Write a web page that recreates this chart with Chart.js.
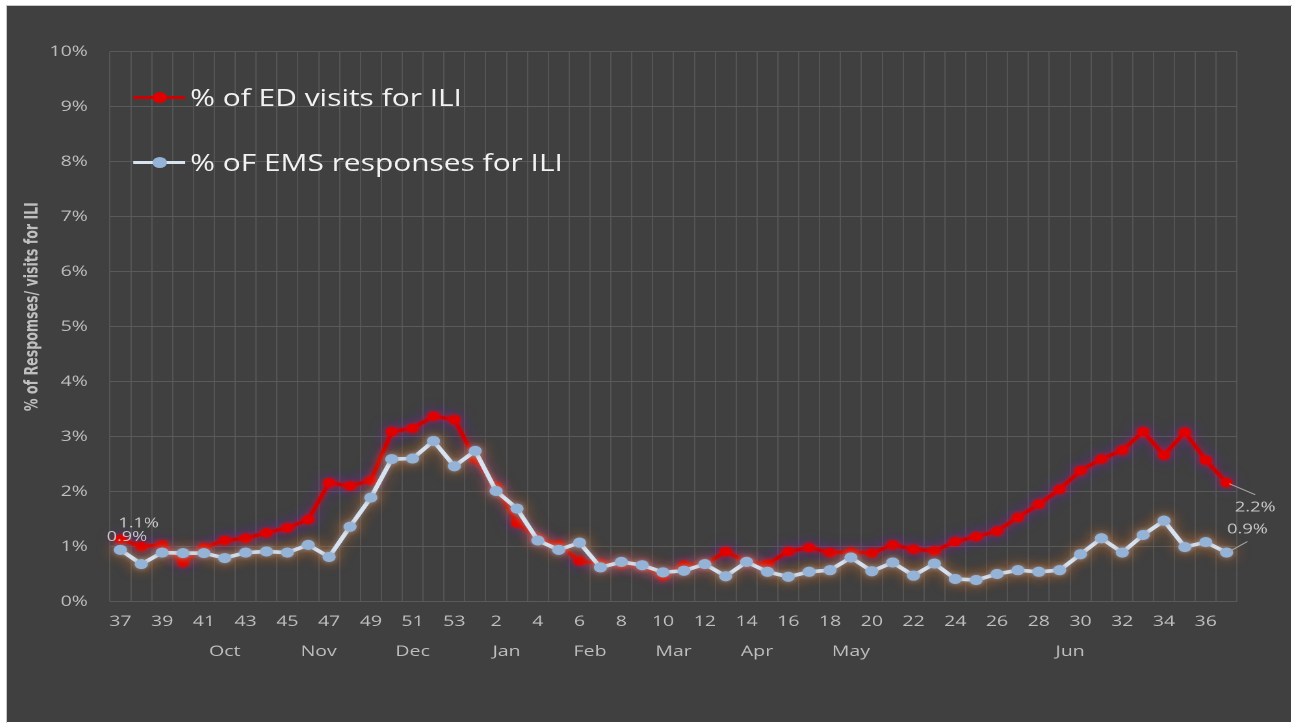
<!DOCTYPE html>
<html>
<head>
<meta charset="utf-8">
<script src="https://cdn.jsdelivr.net/npm/chart.js@4.4.1/dist/chart.umd.min.js"></script>
<style>
  html, body { margin: 0; padding: 0; background: #fff; overflow: hidden; width: 1292px; height: 723px; }
  #frame { position: absolute; left: 6px; top: 5px; width: 1290px; height: 720px; border-left: 1px solid #c8c8c8; border-top: 1px solid #c8c8c8; }
  /* the original picture is stretched sideways, so the whole panel is drawn narrow and scaled in x */
  #panel { position: absolute; left: 7px; top: 6px; width: 988px; height: 716px; background: #404040;
           transform: scaleX(1.3); transform-origin: 0 0; }
  #legend { position: absolute; left: 97px; top: 0; font-family: "Open Sans", sans-serif; font-size: 23px; color: #f2f2f2; }
  .item { position: absolute; left: 0; white-space: nowrap; height: 30px; line-height: 30px; }
  .swatch { position: absolute; left: 0; top: 15px; width: 40px; height: 0; }
  .swatch .ln { position: absolute; left: 0; top: -1.5px; width: 40px; height: 3px; }
  .swatch .dot { position: absolute; left: 14.5px; top: -5.5px; width: 11px; height: 11px; border-radius: 50%; }
  .txt { position: absolute; left: 44px; top: 0; }
</style>
</head>
<body>
<div id="frame"></div>
<div id="panel">
  <canvas id="c"></canvas>
  <div id="legend"></div>
</div>
<script>
// week numbers, season 37 .. 53 then 1 .. 37
const weeks = ['37','38','39','40','41','42','43','44','45','46','47','48','49','50','51','52','53',
  '1','2','3','4','5','6','7','8','9','10','11','12','13','14','15','16','17','18','19','20',
  '21','22','23','24','25','26','27','28','29','30','31','32','33','34','35','36','37'];

// % of ED visits for ILI
const edVisits = [1.13, 1.00, 1.03, 0.71, 0.98, 1.11, 1.15, 1.25, 1.34, 1.49, 2.16, 2.10, 2.20, 3.09, 3.15, 3.37, 3.31,
  2.59, 2.09, 1.43, 1.15, 1.03, 0.74, 0.69, 0.68, 0.65, 0.46, 0.66, 0.67, 0.91, 0.72, 0.68, 0.91, 0.98, 0.89, 0.90,
  0.88, 1.03, 0.95, 0.92, 1.09, 1.18, 1.28, 1.53, 1.77, 2.04, 2.38, 2.59, 2.75, 3.09, 2.66, 3.08, 2.57, 2.16];

// % of EMS responses for ILI
const emsResponses = [0.94, 0.68, 0.89, 0.88, 0.88, 0.79, 0.89, 0.91, 0.89, 1.03, 0.81, 1.36, 1.89, 2.59, 2.60, 2.92, 2.46,
  2.74, 2.01, 1.69, 1.11, 0.94, 1.07, 0.62, 0.72, 0.66, 0.53, 0.56, 0.68, 0.46, 0.72, 0.54, 0.45, 0.54, 0.57, 0.80,
  0.55, 0.71, 0.47, 0.69, 0.41, 0.39, 0.50, 0.57, 0.54, 0.57, 0.86, 1.15, 0.89, 1.21, 1.47, 0.99, 1.08, 0.89];

const seriesNames = ['% of ED visits for ILI', '% oF EMS responses for ILI'];

// month names on the second axis row, centred on a week index
const monthNames = ['Oct', 'Nov', 'Dec', 'Jan', 'Feb', 'Mar', 'Apr', 'May', 'Jun'];
const monthPos = [5, 9.5, 14, 18.5, 22.5, 26.5, 30.5, 35, 45.5];

const yTitleText = '% of Respomses/ visits for ILI';

const tickFont = { family: 'Open Sans', size: 15 };
// outer and inner glow colour per dataset
const glowOuter = ['rgba(120, 50, 200, 0.75)', 'rgba(205, 115, 45, 0.9)'];
const glowInner = ['rgba(235, 0, 20, 0.9)', 'rgba(150, 150, 160, 0.8)'];

// glow round each line: one extra pass with a wide soft shadow, then the real pass
const glow = {
  id: 'glow',
  beforeDatasetDraw(chart, args) {
    const ctx = chart.ctx;
    ctx.save();
    ctx.shadowColor = glowOuter[args.index];
    ctx.shadowBlur = 26;
    args.meta.controller.draw();
    ctx.shadowColor = glowInner[args.index];
    ctx.shadowBlur = 10;
  },
  afterDatasetDraw(chart) {
    chart.ctx.restore();
  }
};

// value labels on first and last point, with leader lines at the end
const endLabels = {
  id: 'endLabels',
  afterDatasetsDraw(chart) {
    const ctx = chart.ctx;
    const spots = [
      // [dataset, index, dx, dy, leader]
      [0, 0, 14, -16, false],
      [1, 0, 5, -13, false],
      [0, 53, 22, 25, true],
      [1, 53, 16, -23, true]
    ];
    ctx.save();
    ctx.font = '14px "Open Sans"';
    ctx.textAlign = 'center';
    ctx.textBaseline = 'middle';
    spots.forEach(([d, i, dx, dy, leader]) => {
      const pt = chart.getDatasetMeta(d).data[i];
      const v = chart.data.datasets[d].data[i];
      if (leader) {
        ctx.strokeStyle = '#a6a6a6';
        ctx.lineWidth = 1;
        ctx.beginPath();
        ctx.moveTo(pt.x + 2, pt.y + (dy > 0 ? 1 : -1));
        ctx.lineTo(pt.x + dx, pt.y + dy * 0.48);
        ctx.stroke();
      }
      ctx.fillStyle = '#c8c8c8';
      ctx.fillText(v.toFixed(1) + '%', pt.x + dx, pt.y + dy);
    });
    ctx.restore();
  }
};

// rotated axis title, sits a little above the middle of the plot
const yTitle = {
  id: 'yTitle',
  afterDraw(chart) {
    const ctx = chart.ctx;
    const a = chart.chartArea;
    ctx.save();
    ctx.translate(20, (a.top + a.bottom) / 2 - 20);
    ctx.rotate(-Math.PI / 2);
    ctx.font = 'bold 14px "Liberation Sans Narrow", "DejaVu Sans Condensed", sans-serif';
    ctx.fillStyle = '#bfbfbf';
    ctx.textAlign = 'center';
    ctx.textBaseline = 'middle';
    ctx.fillText(yTitleText, 0, 0);
    ctx.restore();
  }
};

const chart = new Chart(document.getElementById('c'), {
  type: 'line',
  data: {
    labels: weeks,
    datasets: [{
      label: seriesNames[0],
      data: edVisits,
      borderColor: '#d00000',
      backgroundColor: '#e00000',
      pointBackgroundColor: '#e00000',
      borderWidth: 3,
      pointRadius: 4.5,
      pointBorderWidth: 0,
      order: 1
    }, {
      label: seriesNames[1],
      data: emsResponses,
      borderColor: '#d9e3f0',
      backgroundColor: '#95b3d7',
      pointBackgroundColor: '#95b3d7',
      borderWidth: 3.5,
      pointRadius: 5,
      pointBorderWidth: 0,
      order: 0
    }]
  },
  options: {
    responsive: true,
    maintainAspectRatio: false,
    animation: false,
    devicePixelRatio: 2,
    layout: { padding: { top: 45.7, right: 41.8, bottom: 60.5, left: 0 } },
    plugins: {
      legend: { display: false },
      tooltip: { enabled: false }
    },
    scales: {
      x: {
        type: 'category',
        offset: true,
        weight: 0,
        grid: { offset: true, color: '#555555', drawTicks: false },
        border: { display: false },
        ticks: {
          autoSkip: false, maxRotation: 0, color: '#bfbfbf', font: tickFont, padding: 11,
          callback: (v, i) => i % 2 === 0 ? weeks[i] : ''
        },
        afterFit: s => { s.height = 30; }
      },
      x2: {
        type: 'linear',
        position: 'bottom',
        weight: 1,
        min: -0.5,
        max: 53.5,
        grid: { display: false, drawTicks: false },
        border: { display: false },
        afterBuildTicks: s => { s.ticks = monthPos.map(v => ({ value: v })); },
        ticks: {
          autoSkip: false, maxRotation: 0, color: '#bfbfbf', font: tickFont, padding: 11,
          callback: v => monthNames[monthPos.indexOf(v)]
        },
        afterFit: s => { s.height = 30; }
      },
      y: {
        min: 0,
        max: 10,
        grid: { color: '#5a5a5a', drawTicks: false },
        border: { display: false },
        ticks: { stepSize: 1, color: '#bfbfbf', font: tickFont, padding: 17, callback: v => v + '%' },
        afterFit: s => { s.width = 79.2; }
      }
    }
  },
  plugins: [glow, endLabels, yTitle]
});

// legend drawn as html inside the plot, built from the datasets
const legendTops = [76, 141];
const legend = document.getElementById('legend');
chart.data.datasets.forEach((ds, i) => {
  const item = document.createElement('div');
  item.className = 'item';
  item.style.top = legendTops[i] + 'px';
  item.innerHTML = '<div class="swatch"><div class="ln" style="background:' + ds.borderColor + '"></div>' +
    '<div class="dot" style="background:' + ds.pointBackgroundColor + '"></div></div>' +
    '<span class="txt">' + ds.label + '</span>';
  legend.appendChild(item);
});
</script>
</body>
</html>
